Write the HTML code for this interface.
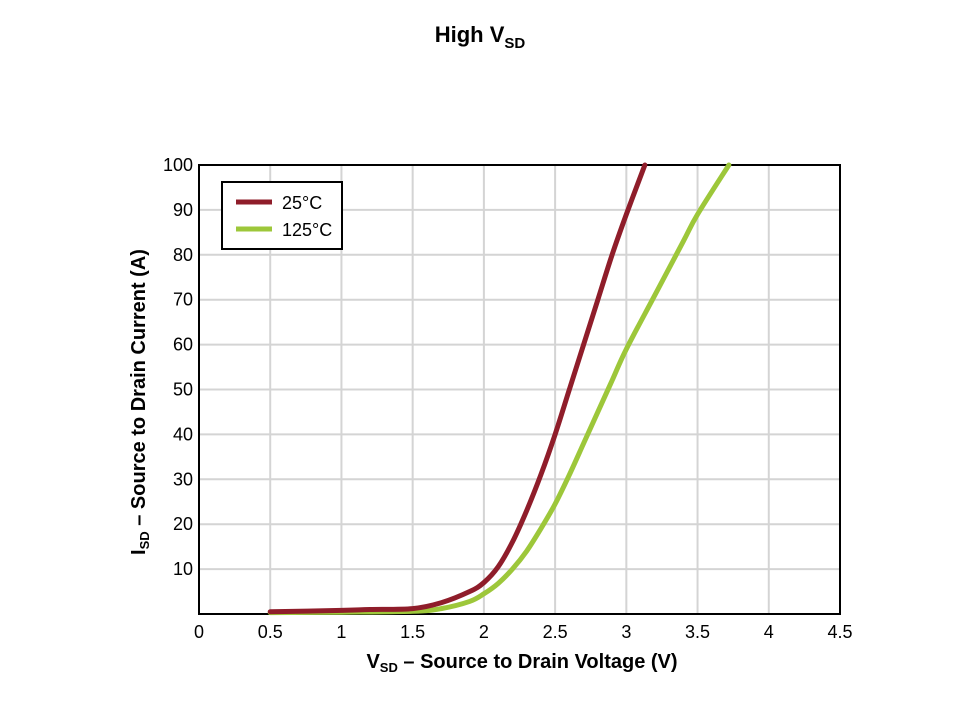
<!DOCTYPE html>
<html><head><meta charset="utf-8"><style>
body{margin:0;background:#fff;}
svg{display:block;font-family:"Liberation Sans Narrow","Liberation Sans",sans-serif;}
</style></head><body>
<svg width="960" height="720" viewBox="0 0 960 720">
<text x="480" y="42" text-anchor="middle" font-family="Liberation Sans, sans-serif" font-weight="bold" font-size="22">High V<tspan font-size="15" dy="6">SD</tspan></text>
<g id="grid"></g>
<g id="axes"></g>
<g id="series"></g>
<text x="522" y="668" text-anchor="middle" font-weight="bold" font-size="20">V<tspan font-size="13" dy="4">SD</tspan><tspan dy="-4"> – Source to Drain Voltage (V)</tspan></text>
<text transform="translate(145,402) rotate(-90)" text-anchor="middle" font-weight="bold" font-size="20">I<tspan font-size="13" dy="4">SD</tspan><tspan dy="-4"> – Source to Drain Current (A)</tspan></text>
<g>
<rect x="222" y="182" width="120" height="67" fill="#fff" stroke="#000" stroke-width="2"/>
<line x1="236" y1="202" x2="272" y2="202" stroke="#8f1d2a" stroke-width="5"/>
<text x="282" y="209" font-size="18">25°C</text>
<line x1="236" y1="229" x2="272" y2="229" stroke="#9dc73a" stroke-width="5"/>
<text x="282" y="236" font-size="18">125°C</text>
</g>
</svg>
<script>
const xTicks=[0,0.5,1,1.5,2,2.5,3,3.5,4,4.5];
const xTickLabels=["0","0.5","1","1.5","2","2.5","3","3.5","4","4.5"];
const yTicks=[10,20,30,40,50,60,70,80,90,100];
const yTickLabels=["10","20","30","40","50","60","70","80","90","100"];
const v25=[0.5,1,1.2,1.5,1.7,1.9,2.0,2.1,2.2,2.3,2.4,2.5,2.6,2.7,2.8,2.9,3.0,3.13];
const i25=[0.5,0.8,1.0,1.2,2.5,5,7,10.5,16,23,31,40,50,60,70,80,89,100];
const v125=[0.5,1,1.5,1.7,1.9,2.0,2.1,2.2,2.3,2.4,2.5,2.6,2.7,2.8,2.9,3.0,3.2,3.4,3.5,3.72];
const i125=[0.3,0.4,0.6,1.2,2.8,4.5,6.8,10,14,19,24.5,31,38,45,52,59,71,83,89,100];
const NS="http://www.w3.org/2000/svg";
const X0=199,X1=840,Y0=614,Y1=165;
const sx=v=>X0+(v-0)/(4.5-0)*(X1-X0);
const sy=v=>Y0-(v-0)/(100-0)*(Y0-Y1);
function mk(tag,attrs,parent){const e=document.createElementNS(NS,tag);for(const k in attrs)e.setAttribute(k,attrs[k]);parent.appendChild(e);return e;}
const grid=document.getElementById('grid'),axes=document.getElementById('axes'),series=document.getElementById('series');
xTicks.forEach((t,i)=>{
 if(t>0&&t<4.5){const l=mk('line',{x1:sx(t),x2:sx(t),y1:Y1,y2:Y0,stroke:'#d4d4d4','stroke-width':2},grid);
 
 }
 const tx=mk('text',{x:sx(t),y:Y0+24,'text-anchor':'middle','font-size':18},axes);tx.textContent=xTickLabels[i];
 
 
});
yTicks.forEach((t,i)=>{
 if(t<100){const l=mk('line',{x1:X0,x2:X1,y1:sy(t),y2:sy(t),stroke:'#d4d4d4','stroke-width':2},grid);
 
 }
 const tx=mk('text',{x:X0-6,y:sy(t)+6,'text-anchor':'end','font-size':18},axes);tx.textContent=yTickLabels[i];
 
 
});
const fr=mk('rect',{x:X0,y:Y1,width:X1-X0,height:Y0-Y1,fill:'none',stroke:'#000','stroke-width':2},axes);


function path(xs,ys){const p=xs.map((x,i)=>[sx(x),sy(ys[i])]);let d='M'+p[0][0]+','+p[0][1];
 for(let i=0;i<p.length-1;i++){const a=p[Math.max(i-1,0)],b=p[i],c=p[i+1],e=p[Math.min(i+2,p.length-1)];
 d+=' C'+(b[0]+(c[0]-a[0])/6)+','+(b[1]+(c[1]-a[1])/6)+' '+(c[0]-(e[0]-b[0])/6)+','+(c[1]-(e[1]-b[1])/6)+' '+c[0]+','+c[1];}
 return d;}
const g=mk('path',{d:path(v125,i125),fill:'none',stroke:'#9dc73a','stroke-width':5,'stroke-linecap':'round','stroke-linejoin':'round'},series);


const r=mk('path',{d:path(v25,i25),fill:'none',stroke:'#8f1d2a','stroke-width':5,'stroke-linecap':'round','stroke-linejoin':'round'},series);


</script>
</body></html>
